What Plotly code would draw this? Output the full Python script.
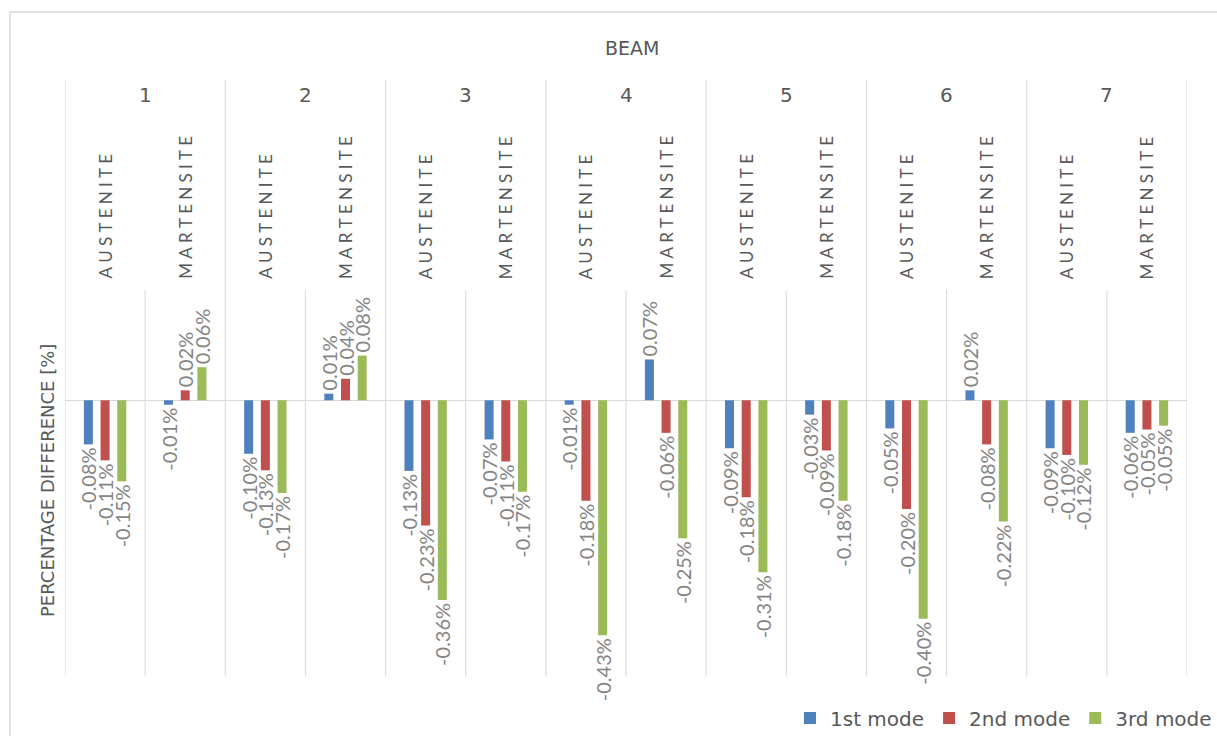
import plotly.graph_objects as go

# ---- data (percent) ----
beams = ["1", "2", "3", "4", "5", "6", "7"]
phases = ["AUSTENITE", "MARTENSITE"]
series_names = ["1st mode", "2nd mode", "3rd mode"]
mode1 = [-0.080, -0.008, -0.097, 0.012, -0.128, -0.071, -0.008, 0.074, -0.087, -0.026, -0.051, 0.018, -0.087, -0.059]
mode2 = [-0.109, 0.018, -0.127, 0.039, -0.227, -0.111, -0.182, -0.059, -0.176, -0.091, -0.197, -0.080, -0.099, -0.053]
mode3 = [-0.147, 0.060, -0.168, 0.081, -0.362, -0.166, -0.426, -0.250, -0.312, -0.182, -0.396, -0.220, -0.117, -0.046]
colors = ["#4f81bd", "#c0504d", "#9bbb59"]

cats = [f"{b} {p}" for b in beams for p in phases]

W, H = 1217, 736
ML, MR, MT, MB = 65, 30, 290, 60
PW, PH = W - ML - MR, H - MT - MB
FONT = "Lato"
WIDE = "DejaVu Sans"


def px_x(px):
    return (px - ML) / PW


def px_y(py):
    return (H - MB - py) / PH


fig = go.Figure()
for name, vals, col in zip(series_names, [mode1, mode2, mode3], colors):
    fig.add_trace(go.Bar(
        x=cats, y=vals, name=name, marker=dict(color=col, line=dict(width=0)),
        texttemplate="%{y:.2f}%", textposition="outside", textangle=-90,
        constraintext="none", cliponaxis=False,
        textfont=dict(family=FONT, size=20, color="#858585"),
        hoverinfo="skip",
    ))

shapes = []
grid = "#d9d9d9"
# beam dividers (tall)
for i in range(len(beams) + 1):
    shapes.append(dict(type="line", xref="x", yref="paper", x0=2 * i - 0.5, x1=2 * i - 0.5,
                       y0=0, y1=px_y(80), line=dict(color=grid, width=1)))
# phase dividers (short)
for i in range(len(beams)):
    shapes.append(dict(type="line", xref="x", yref="paper", x0=2 * i + 0.5, x1=2 * i + 0.5,
                       y0=0, y1=1, line=dict(color=grid, width=1)))
# chart border
shapes.append(dict(type="rect", xref="paper", yref="paper", x0=px_x(10), x1=px_x(1240),
                   y0=px_y(760), y1=px_y(12), line=dict(color=grid, width=1.5)))

annotations = []
for bi, b in enumerate(beams):
    annotations.append(dict(text=b, xref="x", yref="paper", x=2 * bi + 0.5, y=px_y(95),
                            showarrow=False, font=dict(family=WIDE, size=20, color="#595959"),
                            xanchor="center", yanchor="middle"))
    for pi, p in enumerate(phases):
        spaced = "\u2005".join(p)
        annotations.append(dict(text=spaced, xref="x", yref="paper", x=2 * bi + pi, y=px_y(281),
                                showarrow=False, textangle=-90,
                                font=dict(family=FONT, size=17, color="#595959"),
                                xanchor="center", yanchor="bottom"))
annotations.append(dict(text="BEAM", xref="paper", yref="paper", x=px_x(632), y=px_y(48),
                        showarrow=False, font=dict(family=WIDE, size=19, color="#595959"),
                        xanchor="center", yanchor="middle"))
annotations.append(dict(text="PERCENTAGE DIFFERENCE [%]", xref="paper", yref="paper",
                        x=px_x(47), y=px_y(481), showarrow=False, textangle=-90,
                        font=dict(family=WIDE, size=18, color="#595959"),
                        xanchor="center", yanchor="middle"))

fig.update_layout(
    width=W, height=H,
    margin=dict(l=ML, r=MR, t=MT, b=MB, autoexpand=False),
    paper_bgcolor="white", plot_bgcolor="white",
    barmode="group", bargap=0.375, bargroupgap=0.46,
    showlegend=True,
    legend=dict(orientation="h", x=px_x(1217), xanchor="right", y=px_y(718), yanchor="middle",
                font=dict(family=WIDE, size=20, color="#595959"), itemwidth=30,
                bgcolor="rgba(0,0,0,0)", traceorder="normal"),
    xaxis=dict(type="category", range=[-0.5, 13.5], showticklabels=False, showgrid=False,
               zeroline=False, showline=False, ticks=""),
    yaxis=dict(range=[-0.5, 0.2], showticklabels=False, showgrid=False, zeroline=True,
               zerolinecolor=grid, zerolinewidth=1, showline=False, ticks=""),
    shapes=shapes, annotations=annotations,
)

fig.write_html("out.html", config={"displayModeBar": False},
               post_script="document.body.style.margin='0px';")
